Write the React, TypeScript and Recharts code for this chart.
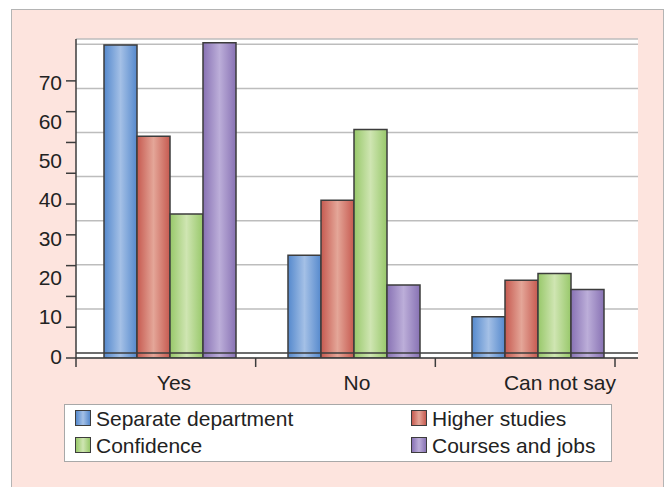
import type { ReactElement } from "react";
import {
  Bar,
  BarChart,
  CartesianGrid,
  ReferenceLine,
  XAxis,
  YAxis,
} from "recharts";

const categories = ["Yes", "No", "Can not say"];
const separateDepartment = [68.5, 22.5, 9];
const higherStudies = [48.5, 34.5, 17];
const confidence = [31.5, 50, 18.5];
const coursesAndJobs = [69, 16, 15];

const labelTicks = [0, 10, 20, 30, 40, 50, 60, 70];
const markTicks = [0, 10, 20, 30, 40, 50, 60, 70, 80, 90];
const gridTicks = [10, 20, 30, 40, 50, 60, 70];
const boundaryTicks = [0, 1, 2, 3];
const labelShift = [4, 3, 22];

const series = [
  { key: "separate", name: "Separate department", edge: "#5589cd", mid: "#a4c0e6", values: separateDepartment },
  { key: "higher", name: "Higher studies", edge: "#c65a50", mid: "#e4a698", values: higherStudies },
  { key: "confidence", name: "Confidence", edge: "#98c86a", mid: "#cfe5b2", values: confidence },
  { key: "courses", name: "Courses and jobs", edge: "#8872b4", mid: "#bcaed9", values: coursesAndJobs },
];

type Row = { category: string; idx: number; [k: string]: string | number };

const data: Row[] = categories.map((category, i) => {
  const row: Row = { category, idx: i + 0.5 };
  series.forEach((s) => {
    row[s.key] = s.values[i];
  });
  return row;
});

const FONT = "'Liberation Sans', Arial, sans-serif";
const DARK = "#3c3c3c";

function CategoryTick(props: { x?: number; y?: number; payload?: { value: string; index: number }; index?: number }): ReactElement {
  const { x = 0, y = 0, payload, index = 0 } = props;
  return (
    <text
      x={x + (labelShift[index] ?? 0)}
      y={y}
      dy="0.71em"
      textAnchor="middle"
      fontFamily={FONT}
      fontSize={21}
      fill="#222"
    >
      {payload?.value}
    </text>
  );
}

function Swatch({ edge, mid }: { edge: string; mid: string }): ReactElement {
  return (
    <span
      style={{
        display: "inline-block",
        width: 16,
        height: 16,
        boxSizing: "border-box",
        border: `1.5px solid ${DARK}`,
        background: `linear-gradient(to right, ${edge}, ${mid} 50%, ${edge})`,
        marginRight: 5,
        verticalAlign: "middle",
        position: "relative",
        top: -2,
      }}
    />
  );
}

function LegendBox(): ReactElement {
  const left = [series[0], series[2]];
  const right = [series[1], series[3]];
  const col = (items: typeof series, x: number) => (
    <div style={{ position: "absolute", left: x, top: 0 }}>
      {items.map((s) => (
        <div key={s.key} style={{ height: 27, lineHeight: "27px", whiteSpace: "nowrap" }}>
          <Swatch edge={s.edge} mid={s.mid} />
          {s.name}
        </div>
      ))}
    </div>
  );
  return (
    <div
      style={{
        position: "absolute",
        left: 64,
        top: 404,
        width: 548,
        height: 58,
        boxSizing: "border-box",
        background: "#fff",
        border: "1.5px solid #a8a8a8",
        fontFamily: FONT,
        fontSize: 21,
        color: "#222",
      }}
    >
      {col(left, 10)}
      {col(right, 346)}
    </div>
  );
}

export default function App(): ReactElement {
  return (
    <div style={{ position: "absolute", left: 0, top: 0, width: 668, height: 487, overflow: "hidden" }}>
      <div
        style={{
          position: "absolute",
          left: 11,
          top: 9,
          width: 653,
          height: 490,
          boxSizing: "border-box",
          background: "#fde4de",
          border: "1.5px solid #b4b4b4",
        }}
      />
      <div style={{ position: "absolute", left: 0, top: 0 }}>
        <BarChart
          width={668}
          height={487}
          data={data}
          margin={{ top: 39, right: 30, left: 10, bottom: 90 }}
          barSize={33}
          barGap={0}
        >
          <defs>
            {series.map((s) => (
              <linearGradient key={s.key} id={`grad-${s.key}`} x1="0" y1="0" x2="1" y2="0">
                <stop offset="0%" stopColor={s.edge} />
                <stop offset="50%" stopColor={s.mid} />
                <stop offset="100%" stopColor={s.edge} />
              </linearGradient>
            ))}
          </defs>
          <CartesianGrid
            yAxisId="grid"
            xAxisId="a_marks"
            vertical={false}
            fill="#ffffff"
            stroke="#bdbdbd"
            strokeWidth={1.5}
          />
          <XAxis
            xAxisId="z_cat"
            dataKey="category"
            padding={{ left: 2, right: 8 }}
            height={30}
            axisLine={false}
            tickLine={false}
            tickSize={0}
            tickMargin={8}
            tick={<CategoryTick />}
            interval={0}
          />
          <XAxis
            xAxisId="a_marks"
            type="number"
            dataKey="idx"
            domain={[0, 3]}
            allowDataOverflow
            ticks={boundaryTicks}
            padding={{ left: 0, right: 23 }}
            height={9}
            tickSize={9}
            tickFormatter={() => ""}
            axisLine={{ stroke: DARK, strokeWidth: 1.5 }}
            tickLine={{ stroke: DARK, strokeWidth: 1.5 }}
          />
          <XAxis
            xAxisId="top"
            orientation="top"
            type="number"
            dataKey="idx"
            domain={[0, 3]}
            allowDataOverflow
            height={0}
            tick={false}
            tickLine={false}
            axisLine={{ stroke: DARK, strokeWidth: 1.5 }}
          />
          <YAxis
            yAxisId="z_labels"
            type="number"
            domain={[-0.5, 81.1]}
            allowDataOverflow
            ticks={labelTicks}
            interval={0}
            width={56}
            tickSize={0}
            tickMargin={4}
            axisLine={false}
            tickLine={false}
            tick={{ fontFamily: FONT, fontSize: 21, fill: "#222" }}
          />
          <YAxis
            yAxisId="a_marks"
            type="number"
            domain={[0, 103.6]}
            allowDataOverflow
            ticks={markTicks}
            interval={0}
            width={10}
            tickSize={10}
            tickFormatter={() => ""}
            axisLine={{ stroke: DARK, strokeWidth: 1.5 }}
            tickLine={{ stroke: DARK, strokeWidth: 1.5 }}
          />
          <YAxis
            yAxisId="rightline"
            orientation="right"
            type="number"
            domain={[0, 1]}
            allowDataOverflow
            width={0}
            tick={false}
            tickLine={false}
            axisLine={{ stroke: DARK, strokeWidth: 1.5 }}
          />
          <YAxis
            yAxisId="grid"
            hide
            width={0}
            type="number"
            domain={[-1.13, 71.2]}
            allowDataOverflow
            ticks={gridTicks}
            interval={0}
          />
          <YAxis yAxisId="bars" hide width={0} type="number" domain={[0, 69.8]} allowDataOverflow />
          <ReferenceLine yAxisId="grid" xAxisId="a_marks" y={0} stroke={DARK} strokeWidth={1.5} />
          {series.map((s) => (
            <Bar
              key={s.key}
              xAxisId="z_cat"
              yAxisId="bars"
              dataKey={s.key}
              name={s.name}
              fill={`url(#grad-${s.key})`}
              stroke={DARK}
              strokeWidth={1.5}
              isAnimationActive={false}
            />
          ))}
        </BarChart>
      </div>
      <LegendBox />
    </div>
  );
}
